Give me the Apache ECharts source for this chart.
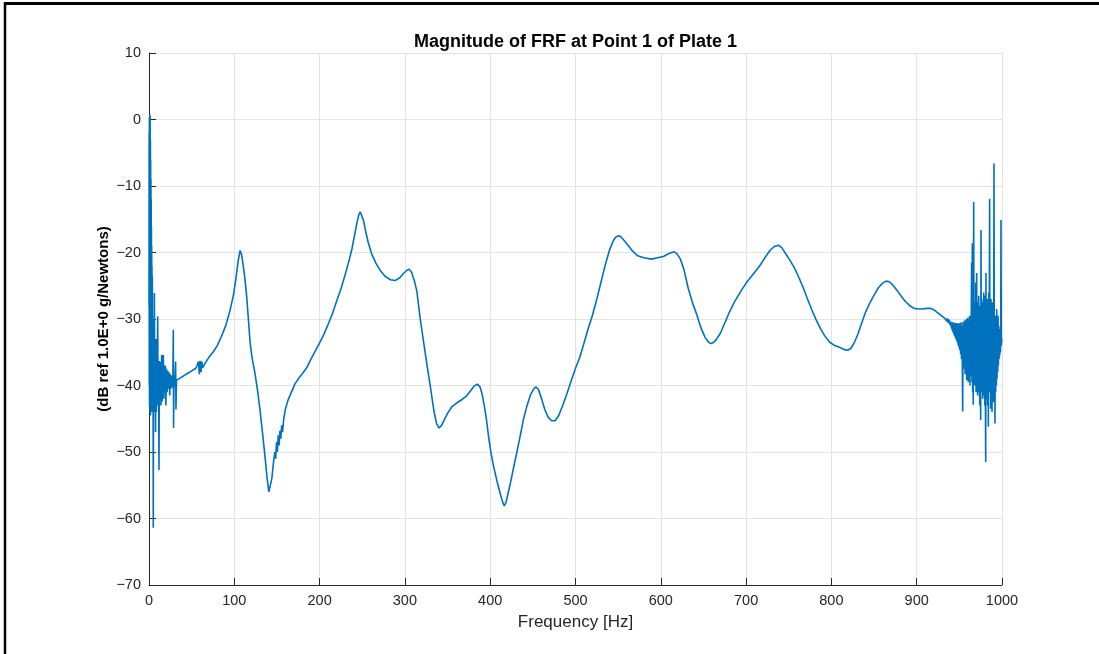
<!DOCTYPE html>
<html>
<head>
<meta charset="utf-8">
<script src="https://cdn.jsdelivr.net/npm/echarts@6/dist/echarts.min.js"></script>
<style>
html,body{margin:0;padding:0;background:#fff;}
#chart{width:1099px;height:654px;}
</style>
</head>
<body>
<div id="chart"></div>
<script>
// ---- data (frequency Hz, magnitude dB) ----
const titleText = 'Magnitude of FRF at Point 1 of Plate 1';
const xAxisName = 'Frequency [Hz]';
const yAxisName = '(dB ref 1.0E+0 g/Newtons)';
const xTicks = [0,100,200,300,400,500,600,700,800,900,1000];
const yTicks = [-70,-60,-50,-40,-30,-20,-10,0,10];

const lowNoise = [
[0,-28],[0.15,-2],[0.3,-40],[0.45,0.3],[0.6,-43],[0.75,-1],[0.9,-30],[1.05,0.7],[1.2,-44],[1.35,0.5],
[1.5,-38],[1.65,-3],[1.8,-44.5],[1.95,-6],[2.1,-41],[2.25,-9],[2.4,-44],[2.55,-12],[2.7,-39],[2.85,-16],
[3.0,-43],[3.15,-19],[3.3,-38],[3.45,-22],[3.6,-42],[3.9,-23.6],[4.3,-44],[4.7,-30],[5.0,-61.4],[5.4,-33],
[5.8,-44],[6.3,-26.1],[6.8,-42],[7.2,-35],[7.7,-47],[8.2,-33],[8.7,-44],[9.2,-36],[9.7,-41],[10.2,-29.6],
[10.7,-43],[11.2,-37],[11.7,-52.7],[12.2,-36.3],[12.8,-42],[13.4,-36.5],[14.0,-43],[14.8,-35.4],[15.4,-42.4],[16.0,-36.5],
[16.8,-35.4],[17.4,-42],[18,-37],[18.6,-41],[19.2,-37],[19.8,-43],[20.5,-37.5],[21.2,-41],[22,-37.8],[22.8,-40.5],
[23.5,-38],[24.3,-41.5],[25,-38.3],[25.8,-40.5],[26.5,-38.5],[27.2,-40.3],[28,-39],[28.5,-31.6],[28.8,-46.4],[29.3,-38.5],
[30,-40.2],[30.6,-38.8],[31.2,-36.4],[31.6,-43.6],[32.2,-39.2],[33,-39.1]
];

const mainCurve = [
[35,-39],[40,-38.6],[45,-38.2],[50,-37.8],[55,-37.4],[57,-37.6],[58,-36.4],[59,-38.3],[60,-36.3],[61,-38],
[62,-36.4],[63,-37.3],[66,-36.6],[70,-35.8],[75,-35],[80,-34],[85,-32.6],[90,-31],[95,-28.7],[99,-26.4],
[102,-23.8],[104.5,-21.3],[106.8,-19.7],[108.5,-20.3],[110.5,-22],[112.5,-24],[114.5,-26.6],[116.5,-30],[118.5,-33.5],[121,-36],
[124,-38],[127,-40.5],[130,-43.5],[133,-47],[136,-50.7],[138.5,-54],[140.5,-56],[142,-55.8],[144,-54],[146,-51.5],
[147.5,-50],[148.5,-51],[149.5,-48.5],[150.5,-50],[151.5,-47.5],[152.5,-49],[153.5,-46.8],[154.5,-48],[155.5,-46],[156.5,-47],
[158,-45],[160,-43.5],[163,-42.2],[167,-41],[171,-39.8],[175,-39],[180,-38.2],[185,-37.3],[190,-36],[195,-34.8],
[200,-33.6],[205,-32.3],[210,-30.8],[215,-29.2],[220,-27.3],[225,-25.5],[230,-23.3],[235,-21],[238,-19.4],[241,-17.4],
[244,-15.4],[246,-14.3],[247.7,-13.9],[249.5,-14.2],[251.5,-15.2],[254,-16.8],[257,-18.5],[261,-20.2],[266,-21.6],[271,-22.7],
[277,-23.6],[283,-24.1],[289,-24.2],[294,-23.8],[298,-23.2],[302,-22.7],[305,-22.5],[308,-23],[311,-24.2],[314,-25.8],
[318,-30],[322,-33.5],[326,-37],[330,-40.3],[334,-43.8],[337,-45.7],[340,-46.4],[343,-46],[346,-45.2],[350,-44.2],
[355,-43.2],[361,-42.6],[367,-42.1],[372,-41.6],[377,-40.8],[381,-40.1],[385,-39.8],[388,-40.2],[390.5,-41.3],[393,-43],
[395.5,-45],[398,-47.6],[401,-50.2],[404,-52.2],[408,-54.4],[412,-56.4],[414.5,-57.5],[416.5,-58.1],[418.5,-57.6],[421,-56.2],
[424,-54.5],[427,-52.6],[431,-50.2],[435,-47.7],[439,-45.1],[443,-43.1],[447,-41.5],[450.5,-40.6],[453.5,-40.2],[456.5,-40.6],
[460,-41.9],[464,-43.6],[468,-44.8],[472,-45.3],[476,-45.3],[480,-44.6],[485,-43],[490,-41.2],[495,-39.3],[500,-37.4],
[505,-35.8],[510,-33.6],[515,-31.4],[520,-29.4],[525,-27],[530,-24.4],[535,-21.8],[540,-19.6],[544,-18.3],[547,-17.7],
[550,-17.5],[553,-17.6],[557,-18.2],[562,-19],[567,-19.8],[573,-20.5],[580,-20.8],[589,-21],[596,-20.8],[603,-20.6],
[609,-20.2],[613,-20],[616,-19.9],[619,-20.2],[623,-21],[627,-22.5],[632,-25.3],[637,-27.5],[642,-29.3],[647,-31.3],
[652,-32.8],[656,-33.5],[659,-33.7],[662,-33.5],[665,-33.1],[670,-32.1],[675,-30.6],[680,-29.1],[686,-27.5],[693,-26],
[700,-24.6],[708,-23.3],[716,-22],[722,-20.8],[728,-19.7],[733,-19.1],[738,-18.9],[742,-19.3],[747,-20.3],[752,-21.3],
[757,-22.4],[762,-23.8],[767,-25.3],[772,-27],[777,-28.6],[782,-30.1],[787,-31.4],[792,-32.5],[798,-33.5],[804,-34],
[810,-34.3],[815,-34.6],[819,-34.7],[823,-34.4],[827,-33.5],[831,-32.3],[835,-30.8],[840,-29],[845,-27.6],[850,-26.4],
[855,-25.3],[860,-24.6],[864,-24.3],[868,-24.4],[872,-24.9],[877,-25.7],[882,-26.6],[887,-27.4],[892,-28],[897,-28.4],
[902,-28.5],[907,-28.5],[912,-28.4],[916,-28.4],[920,-28.6],[925,-29.1],[930,-29.6],[933,-29.9],[935,-30.3],[936,-29.9],
[937,-30.6],[938,-30.1],[939,-30.9]
];

const highNoise = [
[940,-30.4],[940.5,-31.3],[941,-30.5],[941.5,-31.7],[942,-30.6],[942.5,-32],[943,-30.5],[943.5,-32.3],[944,-30.7],[944.5,-32.6],
[945,-30.6],[945.5,-32.9],[946,-30.8],[946.5,-33.2],[947,-30.6],[947.5,-33.5],[948,-30.7],[948.5,-33.9],[949,-30.8],[949.5,-34.3],
[950,-30.6],[950.5,-34.7],[951,-30.9],[951.5,-35.3],[952,-30.5],[952.5,-36],[953,-31],[953.5,-37],[953.9,-43.9],[954.3,-30.4],
[954.8,-37.5],[955.3,-30.8],[955.8,-37.2],[956.3,-30.2],[956.8,-38.3],[957.3,-30.5],[957.8,-37.8],[958.3,-30],[958.6,-39.2],[959,-31],
[959.5,-38.4],[960,-29.8],[960.5,-39.5],[961,-30.5],[961.5,-38],[962,-29.5],[962.5,-40],[963,-30],[963.5,-38.5],[964,-29],
[964.4,-21.5],[964.8,-39.5],[965.2,-18.6],[965.6,-41],[966,-29],[966.3,-42.9],[966.8,-12.4],[967.2,-38],[967.6,-27.5],[968,-40],
[968.4,-28],[968.8,-39],[969.2,-24.5],[969.6,-41],[970,-28.5],[970.3,-23.1],[970.7,-40.2],[971.1,-29],[971.5,-41.5],[971.9,-27.5],
[972.3,-39],[972.7,-26.5],[973.1,-41],[973.5,-29],[973.9,-43],[974.3,-28],[974.7,-40],[975,-45.2],[975.4,-16.6],[975.8,-41],
[976.2,-27],[976.6,-39.5],[977,-28],[977.4,-42],[977.8,-27.5],[978.2,-40],[978.6,-26],[979,-41.5],[979.4,-28.5],[979.8,-43],
[980.2,-26.5],[980.6,-44],[980.9,-51.5],[981.2,-23.1],[981.6,-40.5],[982,-28],[982.4,-42],[982.8,-27],[983.2,-43],[983.6,-29],
[984,-46.2],[984.4,-26],[984.8,-41],[985.2,-25],[985.5,-11.9],[985.9,-40],[986.3,-28],[986.7,-43.5],[987.1,-27],[987.5,-41],
[987.9,-29],[988.3,-44],[988.7,-27.5],[989.1,-40],[989.5,-28.5],[989.9,-42.5],[990.3,-29],[990.6,-6.6],[991,-38],[991.4,-30],
[991.8,-45.7],[992.2,-29.5],[992.6,-41],[993,-30],[993.4,-40],[993.8,-28.5],[994.2,-39],[994.6,-30],[995,-38],[995.4,-29.5],
[995.8,-37],[996.2,-31],[996.6,-36],[997,-31.5],[997.4,-35.5],[997.8,-32],[998.2,-35],[998.5,-33.5],[998.8,-15.1],[999.2,-34],
[999.6,-33.2],[1000,-33]
];

const frf = lowNoise.concat(mainCurve, highNoise);

// ---- chart ----
const FONT = '"Liberation Sans", Arial, Helvetica, sans-serif';
const chart = echarts.init(document.getElementById('chart'), null, {renderer: 'canvas'});
const gridLeft = 149, gridTop = 53, gridRight = 97, gridBottom = 69;
const plotCx = gridLeft + (1099 - gridLeft - gridRight) / 2;
const fmt = v => (v < 0 ? '\u2212' + Math.abs(v) : String(v));

chart.setOption({
  animation: false,
  backgroundColor: '#ffffff',
  grid: {left: gridLeft, top: gridTop, right: gridRight, bottom: gridBottom, containLabel: false},
  graphic: [
    {type: 'line', shape: {x1: 5, y1: 3.5, x2: 1099, y2: 3.5}, style: {stroke: '#000', lineWidth: 3}, silent: true},
    {type: 'line', shape: {x1: 5, y1: 2, x2: 5, y2: 654}, style: {stroke: '#000', lineWidth: 2.5}, silent: true},
    {type: 'text', x: plotCx, y: 42, style: {text: titleText, font: 'bold 18px ' + FONT, fill: '#000', align: 'center', verticalAlign: 'middle'}, silent: true}
  ],
  xAxis: {
    type: 'value', min: xTicks[0], max: xTicks[xTicks.length - 1], interval: 100,
    name: xAxisName, nameLocation: 'middle', nameGap: 29, nameMoveOverlap: false,
    nameTextStyle: {fontFamily: FONT, fontSize: 17, color: '#262626'},
    axisLine: {show: true, onZero: false, lineStyle: {color: '#262626', width: 1}},
    axisTick: {show: true, inside: true, length: 7, lineStyle: {color: '#262626'}},
    axisLabel: {fontFamily: FONT, fontSize: 14.5, color: '#262626', margin: 8, formatter: fmt},
    splitLine: {show: true, lineStyle: {color: '#e3e3e3', width: 1}}
  },
  yAxis: {
    type: 'value', min: yTicks[0], max: yTicks[yTicks.length - 1], interval: 10,
    name: yAxisName, nameLocation: 'middle', nameGap: 38, nameRotate: 90, nameMoveOverlap: false,
    nameTextStyle: {fontFamily: FONT, fontSize: 15, fontWeight: 'bold', color: '#000'},
    axisLine: {show: true, onZero: false, lineStyle: {color: '#262626', width: 1}},
    axisTick: {show: true, inside: true, length: 7, lineStyle: {color: '#262626'}},
    axisLabel: {fontFamily: FONT, fontSize: 14.5, color: '#262626', margin: 8, formatter: fmt},
    splitLine: {show: true, lineStyle: {color: '#e3e3e3', width: 1}}
  },
  series: [{
    type: 'line', data: frf, showSymbol: false, symbol: 'none', smooth: false,
    lineStyle: {color: '#0072BD', width: 1.6}, clip: true
  }]
});
</script>
</body>
</html>
